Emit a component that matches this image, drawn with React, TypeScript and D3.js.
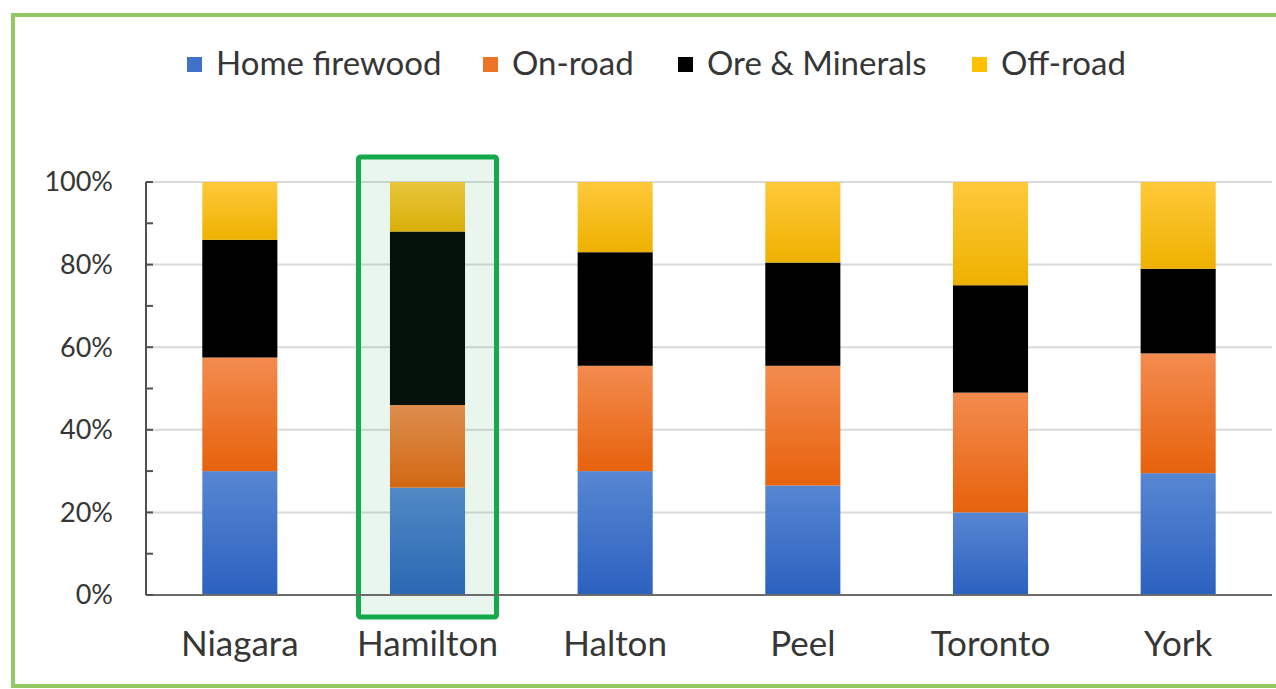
import React from "react";
import * as d3 from "d3";

// Share of emissions by source, per region (percent)
const regions = ["Niagara", "Hamilton", "Halton", "Peel", "Toronto", "York"];
const homeFirewood = [30, 26, 30, 26.5, 20, 29.5];
const onRoad = [27.5, 20, 25.5, 29, 29, 29];
const oreMinerals = [28.5, 42, 27.5, 25, 26, 20.5];
const offRoad = [14, 12, 17, 19.5, 25, 21];
const seriesNames = ["Home firewood", "On-road", "Ore & Minerals", "Off-road"];
const yTicks = [0, 20, 40, 60, 80, 100];
const highlighted = "Hamilton";

const W = 1276;
const H = 689;
const plot = { left: 146, right: 1272, top: 182, bottom: 595 };
const FONT = "Lato, 'Open Sans', sans-serif";
const TEXT = "#363636";

const gradients = [
  { id: "g-fire", top: "#5787d3", bottom: "#2c61bf" },
  { id: "g-road", top: "#f38b4f", bottom: "#e7620c" },
  { id: "g-ore", top: "#000000", bottom: "#000000" },
  { id: "g-off", top: "#ffc93a", bottom: "#eeb100" },
];
const legendColors = ["#3f72c8", "#ee7425", "#000000", "#ffc000"];

export default function App() {
  const rows = regions.map((r, i) => ({
    region: r,
    "Home firewood": homeFirewood[i],
    "On-road": onRoad[i],
    "Ore & Minerals": oreMinerals[i],
    "Off-road": offRoad[i],
  }));
  const stacked = d3.stack<any>().keys(seriesNames)(rows);

  const x = d3
    .scaleBand<string>()
    .domain(regions)
    .range([plot.left, plot.right])
    .paddingInner(0.6)
    .paddingOuter(0.3);
  const y = d3.scaleLinear().domain([0, 100]).range([plot.bottom, plot.top]);
  const minorTicks = d3.range(0, 101, 10);

  const hx = (x(highlighted) ?? 0) + x.bandwidth() / 2;

  // legend entries: label start positions, left to right
  const legendX = [216, 512, 707, 1001];

  return (
    <div style={{ position: "absolute", left: 0, top: 0, width: W, height: H, overflow: "hidden" }}>
      <svg width={W} height={H} style={{ display: "block", background: "#fff" }}>
        <defs>
          {gradients.map((g) => (
            <linearGradient key={g.id} id={g.id} x1="0" y1="0" x2="0" y2="1">
              <stop offset="0%" stopColor={g.top} />
              <stop offset="100%" stopColor={g.bottom} />
            </linearGradient>
          ))}
        </defs>

        {/* chart frame: top, left and bottom edges (right edge is cut off) */}
        <g stroke="#93c963" strokeWidth={4} fill="none">
          <path d={`M${W},15 H13 V686 H${W}`} />
        </g>

        {/* legend */}
        <g fontFamily={FONT} fontSize={33} fill={TEXT}>
          {seriesNames.map((s, i) => (
            <g key={s} transform={`translate(${legendX[i]},75)`}>
              <rect x={-29} y={-18} width={15} height={15} fill={legendColors[i]} />
              <text x={0} y={0}>
                {s}
              </text>
            </g>
          ))}
        </g>

        {/* gridlines */}
        <g>
          {yTicks.slice(1).map((t) => (
            <line key={t} x1={plot.left} x2={plot.right} y1={y(t)} y2={y(t)} stroke="#dadada" strokeWidth={2} />
          ))}
        </g>

        {/* bars */}
        {stacked.map((layer, si) => (
          <g key={layer.key} fill={`url(#${gradients[si].id})`}>
            {layer.map((d, i) => (
              <rect
                key={regions[i]}
                x={x(regions[i])}
                width={x.bandwidth()}
                y={y(d[1])}
                height={y(d[0]) - y(d[1])}
              />
            ))}
          </g>
        ))}

        {/* highlighted region */}
        <rect
          x={hx - 69}
          y={y(100) - 25}
          width={138}
          height={y(0) - y(100) + 47}
          rx={2}
          fill="rgba(30,165,80,0.1)"
          stroke="#14a94b"
          strokeWidth={5}
        />

        {/* axes */}
        <line x1={plot.left} x2={plot.right} y1={y(0)} y2={y(0)} stroke="#6b6b6b" strokeWidth={2} />
        <line x1={plot.left} x2={plot.left} y1={y(100)} y2={y(0)} stroke="#505050" strokeWidth={2} />
        {minorTicks.map((t) => (
          <line key={t} x1={plot.left} x2={plot.left + 7} y1={y(t)} y2={y(t)} stroke="#505050" strokeWidth={2} />
        ))}

        <g fontFamily={FONT} fontSize={27} fill={TEXT} textAnchor="end">
          {yTicks.map((t) => (
            <text key={t} x={113} y={y(t)} dy="0.35em">
              {d3.format("d")(t)}%
            </text>
          ))}
        </g>

        <g fontFamily={FONT} fontSize={35} fill={TEXT} textAnchor="middle">
          {regions.map((r) => (
            <text key={r} x={(x(r) ?? 0) + x.bandwidth() / 2} y={656}>
              {r}
            </text>
          ))}
        </g>
      </svg>
    </div>
  );
}
